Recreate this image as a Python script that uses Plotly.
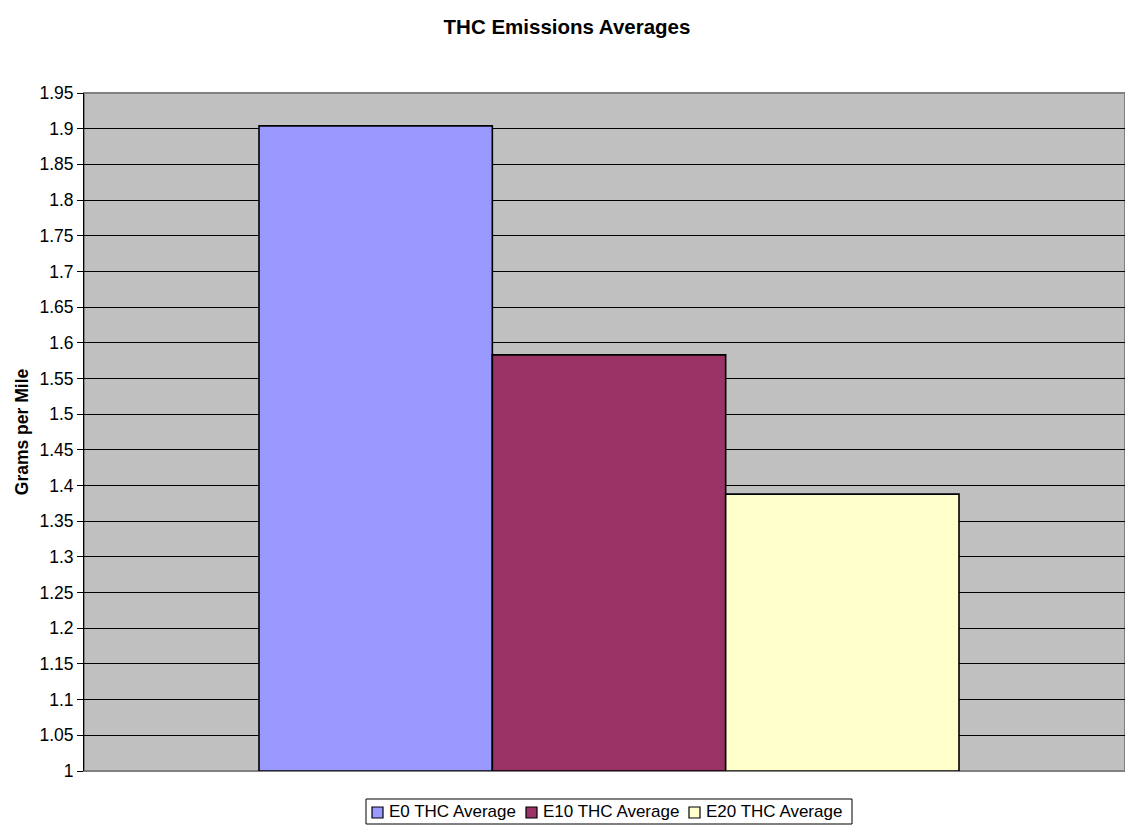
import plotly.graph_objects as go

# THC emission averages by fuel blend (grams per mile)
series_names = ["E0 THC Average", "E10 THC Average", "E20 THC Average"]
series_values = [1.904, 1.583, 1.388]
series_colors = ["#9999FF", "#993366", "#FFFFCC"]

y_ticks = [1 + 0.05 * i for i in range(20)]
y_tick_labels = ["1", "1.05", "1.1", "1.15", "1.2", "1.25", "1.3", "1.35", "1.4", "1.45",
                 "1.5", "1.55", "1.6", "1.65", "1.7", "1.75", "1.8", "1.85", "1.9", "1.95"]

FONT = "Liberation Sans, Arial, sans-serif"
W, H = 1125, 825
ML, MR, MT, MB = 84, 0, 93, 54
PW, PH = W - ML - MR, H - MT - MB


def px_x(x):
    """Pixel column -> paper x coordinate."""
    return (x - ML) / PW


def px_y(y):
    """Pixel row -> paper y coordinate."""
    return (H - MB - y) / PH


fig = go.Figure()
for name, val, col in zip(series_names, series_values, series_colors):
    fig.add_trace(go.Bar(
        x=[0], y=[val - 1], base=1, name=name, showlegend=False,
        marker=dict(color=col, line=dict(color="black", width=1.6)),
    ))

shapes = [dict(type="rect", xref="paper", yref="paper", x0=0, x1=1, y0=0, y1=1,
               line=dict(color="#808080", width=2), fillcolor="rgba(0,0,0,0)",
               layer="below")]
annotations = []

# Legend box along the bottom edge
shapes.append(dict(type="rect", xref="paper", yref="paper",
                   x0=px_x(366), x1=px_x(852), y0=px_y(824), y1=px_y(799),
                   line=dict(color="black", width=1), fillcolor="white", layer="above"))
key_x = [372, 526, 689]
for name, col, kx in zip(series_names, series_colors, key_x):
    shapes.append(dict(type="rect", xref="paper", yref="paper",
                       x0=px_x(kx), x1=px_x(kx + 11), y0=px_y(818), y1=px_y(807),
                       line=dict(color="black", width=1.2), fillcolor=col, layer="above"))
    annotations.append(dict(text=name, xref="paper", yref="paper",
                            x=px_x(kx + 15), y=px_y(812), xanchor="left", yanchor="middle",
                            showarrow=False,
                            font=dict(family=FONT, size=17, color="black")))

fig.update_layout(
    width=W, height=H,
    margin=dict(l=ML, r=MR, t=MT, b=MB),
    paper_bgcolor="white",
    plot_bgcolor="#C0C0C0",
    barmode="group",
    bargap=1/3,
    bargroupgap=0,
    showlegend=False,
    title=dict(text="<b>THC Emissions Averages</b>", xref="container", x=567/W,
               xanchor="center", yref="container", y=(H - 27) / H, yanchor="middle",
               font=dict(family=FONT, size=20.5, color="black")),
    font=dict(family=FONT, size=17, color="black"),
    xaxis=dict(range=[-0.5, -0.5 + PW / 1050], showticklabels=False, showgrid=False,
               zeroline=False, showline=False, ticks=""),
    yaxis=dict(range=[1, 1.95], tickvals=y_ticks, ticktext=y_tick_labels,
               showgrid=True, gridcolor="black", gridwidth=1,
               showline=True, linecolor="black", linewidth=1,
               ticks="outside", ticklen=6, tickcolor="black",
               zeroline=False,
               title=dict(text="<b>Grams per Mile</b>", standoff=6,
                          font=dict(family=FONT, size=17.5, color="black")),
               tickfont=dict(family=FONT, size=17.5, color="black")),
    shapes=shapes,
    annotations=annotations,
)

fig.write_html("out.html")
